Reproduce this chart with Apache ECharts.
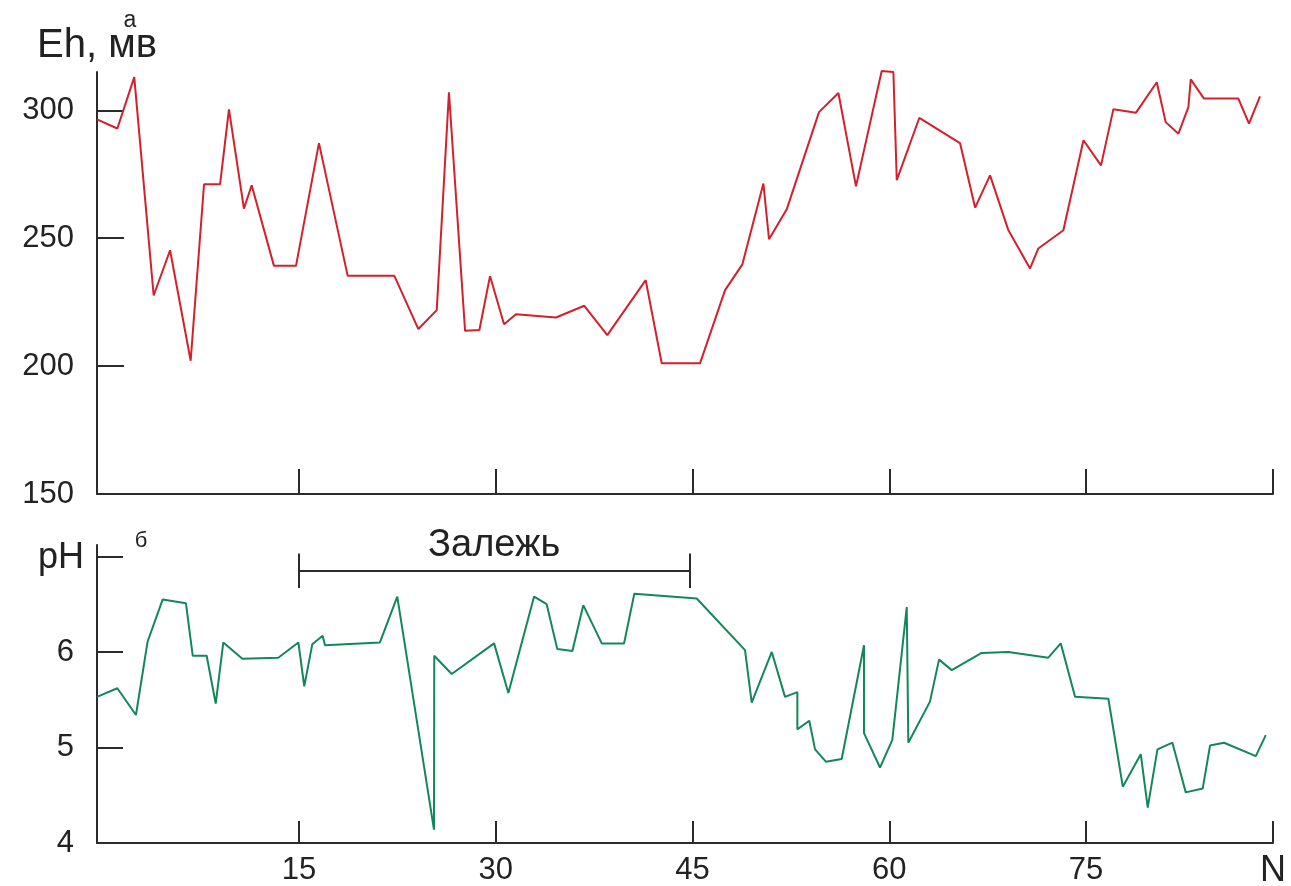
<!DOCTYPE html>
<html>
<head>
<meta charset="utf-8">
<script src="https://cdn.jsdelivr.net/npm/echarts@6/dist/echarts.min.js"></script>
<style>
  html, body { margin: 0; padding: 0; background: #fff; }
  #main { width: 1291px; height: 886px; }
</style>
</head>
<body>
<div id="main"></div>
<script>
// профиль: Eh (а) и pH (б) по точкам N
var xMin = -0.4, xMax = 89.25;
var xTicks = [15, 30, 45, 60, 75];

var ehN = [-0.4, 1.15, 2.44, 3.92, 5.17, 6.74, 7.76, 8.98, 9.66, 10.8, 11.39, 13.09, 14.77, 16.52, 18.71, 22.27, 24.1, 25.5, 26.43, 27.66, 28.75, 29.56, 30.63, 31.54, 34.59, 36.75, 38.5, 41.43, 42.65, 45.57, 47.48, 48.8, 50.4, 50.83, 52.18, 54.64, 56.12, 57.46, 59.42, 60.31, 60.57, 62.29, 65.39, 66.54, 67.68, 69.08, 70.73, 71.36, 73.27, 74.8, 76.14, 77.08, 78.81, 80.39, 81.07, 82.04, 82.8, 82.98, 83.99, 86.61, 87.42, 88.26];
var ehValues = [296.5, 292.9, 313, 227.6, 245.3, 202.1, 271.1, 271.1, 300.4, 261.6, 270.7, 239.2, 239.2, 287.2, 235.3, 235.3, 214.5, 221.9, 307.1, 213.8, 214.1, 235.2, 216.4, 220.3, 219, 223.6, 212.1, 233.6, 201.1, 201.1, 229.7, 239.8, 271.4, 249.6, 261.3, 299.3, 306.8, 270.3, 315.4, 315, 272.7, 297.1, 287.2, 262, 274.6, 253.1, 238.2, 246, 253.1, 288.3, 278.5, 300.4, 299.1, 311, 295.4, 290.9, 301.3, 312.1, 304.6, 304.6, 294.8, 305.5];
var ehTicks = [200, 250, 300];
var ehLabels = [150, 200, 250, 300];

var phN = [-0.4, 1.15, 2.57, 3.46, 4.61, 6.38, 6.9, 7.96, 8.65, 9.23, 10.68, 13.42, 14.95, 15.4, 16.01, 16.8, 16.98, 21.17, 22.49, 25.29, 25.31, 26.64, 29.87, 30.96, 32.92, 33.88, 34.69, 35.84, 36.67, 38.08, 39.78, 40.56, 45.32, 49, 49.51, 51.04, 52.05, 52.99, 52.99, 53.9, 54.34, 55.18, 56.37, 58.07, 58.07, 59.29, 60.23, 61.33, 61.45, 63.1, 63.79, 64.76, 67.04, 69.07, 72.12, 73.07, 74.16, 76.7, 77.8, 79.17, 79.7, 80.44, 81.58, 82.6, 83.89, 84.45, 85.52, 87.94, 88.7];
var phValues = [5.53, 5.62, 5.34, 6.11, 6.55, 6.51, 5.96, 5.96, 5.46, 6.1, 5.93, 5.94, 6.1, 5.64, 6.08, 6.17, 6.07, 6.1, 6.58, 4.14, 5.96, 5.77, 6.09, 5.57, 6.58, 6.5, 6.03, 6.01, 6.49, 6.09, 6.09, 6.61, 6.56, 6.02, 5.47, 6.0, 5.53, 5.58, 5.19, 5.28, 4.98, 4.85, 4.88, 6.07, 5.15, 4.79, 5.08, 6.47, 5.05, 5.48, 5.92, 5.81, 5.99, 6.0, 5.94, 6.09, 5.53, 5.51, 4.59, 4.93, 4.37, 4.98, 5.05, 4.53, 4.57, 5.02, 5.05, 4.91, 5.13];
var phTicks = [5, 6, 7];
var phLabels = [4, 5, 6];

// залежь
var zalezhFrom = 15, zalezhTo = 44.75, zalezhLevel = 6.85, zalezhTickLo = 6.67, zalezhTickHi = 7.03;

var font = 'Liberation Sans, Arial, sans-serif';
var axisColor = '#2b2b2b';

function pairs(xs, ys) {
	var out = [];
	for (var i = 0; i < xs.length; i++) {
		out.push([xs[i], ys[i]]);
	}
	return out;
}

function xAxis(idx, labels) {
	return {
		type: 'value', gridIndex: idx, min: xMin, max: xMax,
		axisLine: {show: true, onZero: false, lineStyle: {color: axisColor, width: 2}},
		axisTick: {show: true, inside: true, length: idx === 0 ? 25 : 22, customValues: xTicks.concat([xMax]),
			lineStyle: {color: axisColor, width: 2}},
		axisLabel: {show: labels, customValues: xTicks, margin: 12, fontSize: 31, color: '#222', fontFamily: font},
		splitLine: {show: false}
	};
}

function yAxis(idx, min, max, ticks, labels, tickLen) {
	return {
		type: 'value', gridIndex: idx, min: min, max: max,
		axisLine: {show: true, onZero: false, lineStyle: {color: axisColor, width: 2}},
		axisTick: {show: true, inside: true, length: tickLen, customValues: ticks, lineStyle: {color: axisColor, width: 2}},
		axisLabel: {customValues: labels, margin: 23, fontSize: 31, color: '#222', fontFamily: font},
		splitLine: {show: false}
	};
}

var yTop = yAxis(0, 150, 315, ehTicks, ehLabels, 27);
yTop.name = 'Eh, мв';
yTop.nameLocation = 'end';
yTop.nameGap = 6;
yTop.nameTextStyle = {fontSize: 40, color: '#222', fontFamily: font};

var chart = echarts.init(document.getElementById('main'));
chart.setOption({
	animation: false,
	backgroundColor: '#fff',
	grid: [
		{left: 97, right: 18, top: 72, height: 422},
		{left: 97, right: 18, top: 545, height: 298}
	],
	xAxis: [xAxis(0, false), xAxis(1, true)],
	yAxis: [yTop, yAxis(1, 4, 7.12, phTicks, phLabels, 26)],
	graphic: [
		{type: 'text', x: 130, y: 21, style: {text: 'а', fontSize: 23, fill: '#222', fontFamily: font, align: 'center', verticalAlign: 'middle'}},
		{type: 'text', x: 141, y: 541, style: {text: 'б', fontSize: 22, fill: '#222', fontFamily: font, align: 'center', verticalAlign: 'middle'}},
		{type: 'text', x: 84, y: 558, style: {text: 'pH', fontSize: 36, fill: '#222', fontFamily: font, align: 'right', verticalAlign: 'middle'}},
		{type: 'text', x: 1273, y: 871, style: {text: 'N', fontSize: 36, fill: '#222', fontFamily: font, align: 'center', verticalAlign: 'middle'}}
	],
	series: [{
		name: 'Eh',
		type: 'line',
		xAxisIndex: 0, yAxisIndex: 0,
		showSymbol: false,
		clip: false,
		data: pairs(ehN, ehValues),
		lineStyle: {color: '#d3202c', width: 2},
		itemStyle: {color: '#d3202c'}
	}, {
		name: 'pH',
		type: 'line',
		xAxisIndex: 1, yAxisIndex: 1,
		showSymbol: false,
		clip: false,
		data: pairs(phN, phValues),
		lineStyle: {color: '#13875a', width: 2},
		itemStyle: {color: '#13875a'},
		markLine: {
			silent: true,
			symbol: 'none',
			lineStyle: {color: axisColor, width: 2, type: 'solid'},
			label: {show: false},
			data: [
				[{coord: [zalezhFrom, zalezhLevel], label: {show: true, formatter: 'Залежь', position: 'insideMiddleTop', distance: 6,
					fontSize: 38, color: '#222', fontFamily: font}},
				 {coord: [zalezhTo, zalezhLevel]}],
				[{coord: [zalezhFrom, zalezhTickLo]}, {coord: [zalezhFrom, zalezhTickHi]}],
				[{coord: [zalezhTo, zalezhTickLo]}, {coord: [zalezhTo, zalezhTickHi]}]
			]
		}
	}]
});
</script>
</body>
</html>
